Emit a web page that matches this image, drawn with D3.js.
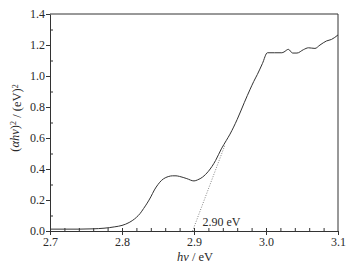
<!DOCTYPE html>
<html lang="en">
  <head>
    <meta charset="UTF-8" />
    <title>Tauc plot</title>
    <script src="https://d3js.org/d3.v7.min.js"></script>
    <style>
      body {
        margin: 0;
        background: #fff;
      }
      svg text {
        font-family: "Liberation Serif", "Times New Roman", serif;
        fill: #2a2a2a;
      }
      .axis path,
      .axis line {
        stroke: #333;
      }
    </style>
  </head>
  <body>
    <svg id="chart" width="353" height="268"></svg>

    <script>
      // photon energy (eV) and (alpha h nu)^2 values
      var energy = [
        2.7, 2.72, 2.74, 2.76, 2.775, 2.79, 2.8, 2.81, 2.82, 2.825, 2.83,
        2.835, 2.84, 2.845, 2.85, 2.855, 2.86, 2.865, 2.87, 2.875, 2.88, 2.89,
        2.9, 2.905, 2.912, 2.92, 2.93, 2.938, 2.945, 2.95, 2.96, 2.97, 2.978,
        2.983, 2.988, 2.995, 3.002, 3.012, 3.022, 3.025, 3.031, 3.037, 3.043,
        3.052, 3.059, 3.068, 3.075, 3.084, 3.091, 3.1,
      ];
      var absorb = [
        0.012, 0.012, 0.012, 0.014, 0.018, 0.027, 0.036, 0.055, 0.088, 0.112,
        0.145, 0.18, 0.22, 0.265, 0.3, 0.327, 0.343, 0.352, 0.356, 0.356,
        0.352, 0.338, 0.323, 0.33, 0.348, 0.385, 0.455, 0.53, 0.585, 0.625,
        0.72, 0.83, 0.915, 0.965, 1.01, 1.08, 1.15, 1.15, 1.15, 1.155, 1.172,
        1.148, 1.148, 1.17, 1.182, 1.178, 1.2, 1.226, 1.236, 1.265,
      ];

      // extrapolated tangent to the band edge
      var tangentX = [2.898, 2.943];
      var tangentY = [0, 0.555];
      var gapLabel = "2.90 eV";

      var xTicks = [2.7, 2.8, 2.9, 3.0, 3.1];
      var yTicks = [0, 0.2, 0.4, 0.6, 0.8, 1.0, 1.2, 1.4];

      var svg = d3.select("#chart"),
        margin = { top: 14, right: 15, bottom: 37, left: 50 },
        width = +svg.attr("width") - margin.left - margin.right,
        height = +svg.attr("height") - margin.top - margin.bottom,
        g = svg
          .append("g")
          .attr("transform", "translate(" + margin.left + "," + margin.top + ")");

      var x = d3.scaleLinear().domain([2.7, 3.1]).range([0, width]);
      var y = d3.scaleLinear().domain([0, 1.4]).range([height, 0]);

      // minor ticks point inward
      g.append("g")
        .attr("class", "axis")
        .attr("transform", "translate(0," + height + ")")
        .call(
          d3.axisBottom(x)
            .tickValues(d3.range(2.72, 3.1, 0.02))
            .tickSize(-3)
            .tickFormat("")
        )
        .call(function (a) { a.select(".domain").remove(); });

      g.append("g")
        .attr("class", "axis")
        .call(
          d3.axisLeft(y)
            .tickValues(d3.range(0.1, 1.4, 0.2))
            .tickSize(-3)
            .tickFormat("")
        )
        .call(function (a) { a.select(".domain").remove(); });

      // major axes
      g.append("g")
        .attr("class", "axis")
        .attr("transform", "translate(0," + height + ")")
        .call(
          d3.axisBottom(x)
            .tickValues(xTicks)
            .tickSize(4)
            .tickSizeOuter(0)
            .tickPadding(2)
            .tickFormat(d3.format(".1f"))
        )
        .selectAll("text")
        .style("font-size", "12px");

      g.append("g")
        .attr("class", "axis")
        .call(
          d3.axisLeft(y)
            .tickValues(yTicks)
            .tickSize(4)
            .tickSizeOuter(0)
            .tickPadding(1)
            .tickFormat(d3.format(".1f"))
        )
        .selectAll("text")
        .style("font-size", "12px");

      // top and right frame
      g.append("path")
        .attr("d", "M0,0H" + width + "V" + height)
        .attr("fill", "none")
        .attr("stroke", "#333");

      // tangent line
      g.append("line")
        .attr("x1", x(tangentX[0]))
        .attr("y1", y(tangentY[0]))
        .attr("x2", x(tangentX[1]))
        .attr("y2", y(tangentY[1]))
        .attr("stroke", "#666")
        .attr("stroke-width", 0.8)
        .attr("stroke-dasharray", "1,1.5");

      // data curve
      var line = d3
        .line()
        .x(function (d, i) { return x(energy[i]); })
        .y(function (d) { return y(d); })
        .curve(d3.curveMonotoneX);

      g.append("path")
        .datum(absorb)
        .attr("d", line)
        .attr("fill", "none")
        .attr("stroke", "#333")
        .attr("stroke-width", 1);

      g.append("text")
        .attr("x", x(tangentX[0]) + 10)
        .attr("y", height - 5)
        .style("font-size", "12px")
        .text(gapLabel);

      // x axis label
      var xl = svg
        .append("text")
        .attr("x", margin.left + width / 2 + 1)
        .attr("y", 261)
        .attr("text-anchor", "middle")
        .style("font-size", "12.5px");
      xl.append("tspan").style("font-style", "italic").text("hν");
      xl.append("tspan").text(" / eV");

      // y axis label
      var yl = svg
        .append("text")
        .attr("transform", "translate(19," + (margin.top + 104) + ") rotate(-90)")
        .attr("text-anchor", "middle")
        .style("font-size", "12.5px");
      yl.append("tspan").text("(");
      yl.append("tspan").style("font-style", "italic").text("αhν");
      yl.append("tspan").text(")");
      yl.append("tspan").attr("dy", "-0.4em").style("font-size", "8px").text("2");
      yl.append("tspan").attr("dy", "0.4em").text(" / (eV)");
      yl.append("tspan").attr("dy", "-0.4em").style("font-size", "8px").text("2");
    </script>
  </body>
</html>
